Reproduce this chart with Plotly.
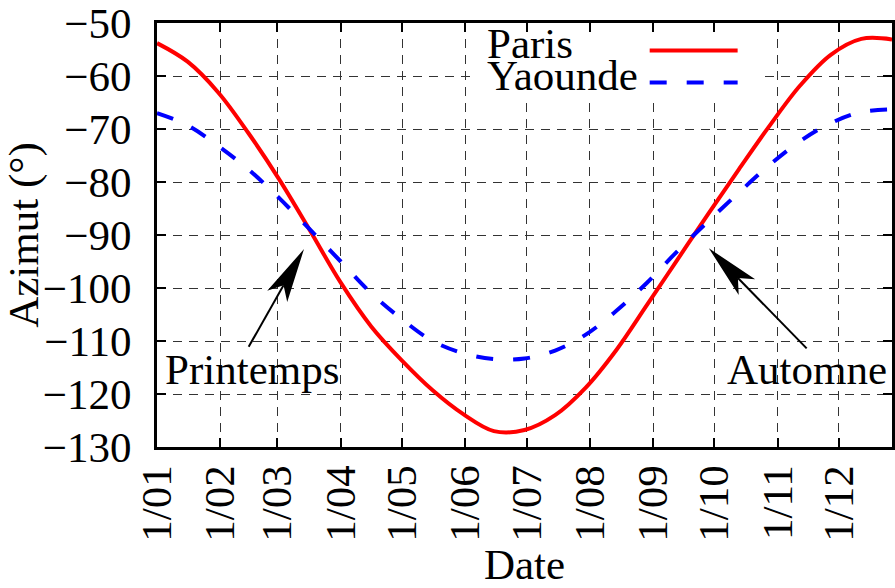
import numpy as np
import plotly.graph_objects as go

# ---- data ----
days = [0, 15, 30, 45, 60, 75, 90, 105, 120, 135, 150, 165, 180, 195, 210, 225,
        240, 255, 270, 285, 300, 315, 330, 345, 360]
azimut_paris = [-53.8, -57.3, -63.1, -70.9, -79.6, -89.2, -99.0, -107.3, -113.7, -119.3,
                -123.8, -127.0, -126.8, -124.0, -118.8, -111.7, -103.2, -94.6, -86.0,
                -77.6, -69.4, -61.8, -56.0, -53.0, -53.1]
azimut_yaounde = [-67.0, -69.3, -73.2, -77.7, -83.1, -89.0, -95.0, -101.0, -105.9, -110.0,
                  -112.3, -113.4, -113.3, -111.8, -108.8, -104.3, -99.0, -93.0, -87.4,
                  -82.0, -76.8, -72.3, -68.9, -66.8, -66.3]

tick_days = [0, 31, 59, 90, 120, 151, 181, 212, 243, 273, 304, 334]
tick_labels = ["1/01", "1/02", "1/03", "1/04", "1/05", "1/06",
               "1/07", "1/08", "1/09", "1/10", "1/11", "1/12"]
series_names = ["Paris", "Yaounde"]
notes = ["Printemps", "Automne"]

FONT = "Liberation Serif"
FS = 43
W, H = 895, 588
ML, MR, MT, MB = 157, 0, 17, 141
XR = [0, 360]
YR = [-130, -50]
pw, ph = W - ML - MR, H - MT - MB
px_day = pw / (XR[1] - XR[0])
px_deg = ph / (YR[1] - YR[0])


def dx_of(px):
    return XR[0] + (px - ML) / px_day


def dy_of(py):
    return YR[1] - (py - MT) / px_deg


fig = go.Figure()
fig.add_trace(go.Scatter(x=days, y=azimut_paris, mode="lines", name=series_names[0],
                         line=dict(color="#ff0000", width=4, shape="spline"), showlegend=False))
fig.add_trace(go.Scatter(x=days, y=azimut_yaounde, mode="lines", name=series_names[1],
                         line=dict(color="#0000ff", width=4, dash="17px,20px", shape="spline"),
                         showlegend=False))

shapes = []
annotations = []

# legend box (hides grid) + samples
shapes.append(dict(type="rect", xref="x", yref="y", x0=dx_of(476), x1=dx_of(763),
                   y0=dy_of(93), y1=YR[1], fillcolor="white", line=dict(width=0),
                   layer="between"))
for i, (nm, col, dash) in enumerate([(series_names[0], "#ff0000", "solid"),
                                     (series_names[1], "#0000ff", "17px,20px")]):
    ypx = 45 + 32.3 * i
    shapes.append(dict(type="line", xref="x", yref="y", x0=dx_of(651.7), x1=dx_of(740),
                       y0=dy_of(ypx), y1=dy_of(ypx),
                       line=dict(color=col, width=4, dash=dash), layer="between"))
    annotations.append(dict(text=nm, xref="x", yref="y", x=dx_of(486), y=dy_of(ypx - 7),
                            xanchor="left", yanchor="middle", showarrow=False,
                            font=dict(family=FONT, size=FS, color="black")))

# arrows with labels
arrows = [
    # text, text_x, text_y, tip(d,v), tail(d,v)
    (notes[0], 46.7, -115.3, (72.0, -92.66), (44.9, -111.1)),
    (notes[1], 318.2, -115.3, (270.3, -92.5), (318.2, -111.4)),
]
for txt, tx, ty, tip, tail in arrows:
    annotations.append(dict(text=txt, x=tx, y=ty, xref="x", yref="y", showarrow=False,
                            xanchor="center", yanchor="middle",
                            font=dict(family=FONT, size=FS, color="black")))
    ddx = (tail[0] - tip[0]) * px_day
    ddy = -(tail[1] - tip[1]) * px_deg
    L = np.hypot(ddx, ddy)
    ux, uy = ddx / L, ddy / L
    pxp, pyp = -uy, ux
    hl, hw, nl = 55, 11.5, 42
    c1 = (hl * ux + hw * pxp, hl * uy + hw * pyp)
    c2 = (hl * ux - hw * pxp, hl * uy - hw * pyp)
    nt = (nl * ux, nl * uy)
    pts = [(tip[0], tip[1]),
           (tip[0] + c1[0] / px_day, tip[1] - c1[1] / px_deg),
           (tip[0] + nt[0] / px_day, tip[1] - nt[1] / px_deg),
           (tip[0] + c2[0] / px_day, tip[1] - c2[1] / px_deg)]
    path = "M{:.3f},{:.3f} L{:.3f},{:.3f} L{:.3f},{:.3f} L{:.3f},{:.3f} Z".format(
        *[v for p in pts for v in p])
    shapes.append(dict(type="path", xref="x", yref="y", path=path, fillcolor="black",
                       line=dict(width=0), layer="above"))
    shapes.append(dict(type="line", xref="x", yref="y", x0=tail[0], y0=tail[1],
                       x1=pts[2][0], y1=pts[2][1],
                       line=dict(color="black", width=2), layer="above"))

axis_common = dict(showgrid=True, gridcolor="#333333", gridwidth=1, griddash="9px,7px",
                   showline=True, linecolor="black", linewidth=3, mirror="ticks",
                   ticks="inside", ticklen=9, tickwidth=2, tickcolor="black", zeroline=False,
                   ticklabeloverflow="allow")

fig.update_layout(
    width=W, height=H,
    margin=dict(l=ML, r=MR, t=MT, b=MB, pad=0),
    paper_bgcolor="white", plot_bgcolor="white",
    font=dict(family=FONT, size=FS, color="black"),
    xaxis=dict(range=XR, tickmode="array", tickvals=tick_days, ticktext=tick_labels,
               tickangle=-90, tickfont=dict(family=FONT, size=FS, color="black"),
               ticklabelstandoff=-2,
               title=dict(text="Date", font=dict(family=FONT, size=FS), standoff=0),
               **axis_common),
    yaxis=dict(range=YR, tick0=-130, dtick=10,
               tickfont=dict(family=FONT, size=FS, color="black"), ticklabelstandoff=14,
               title=dict(text="Azimut (°)", font=dict(family=FONT, size=FS), standoff=0),
               **axis_common),
    shapes=shapes,
    annotations=annotations,
    showlegend=False,
)

fig.write_html("out.html")
